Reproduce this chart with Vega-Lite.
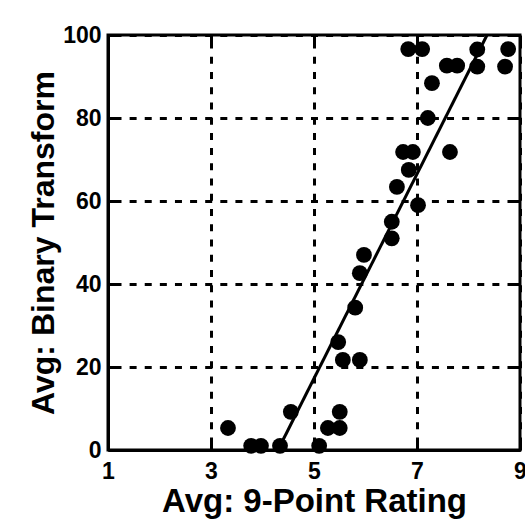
{
  "$schema": "https://vega.github.io/schema/vega-lite/v6.json",
  "width": 412,
  "height": 415,
  "autosize": {"type": "none"},
  "padding": {"left": 108, "top": 35, "right": 5, "bottom": 74},
  "background": "white",
  "config": {
    "view": {"stroke": "black", "strokeWidth": 3},
    "font": "Liberation Sans",
    "axis": {
      "domainColor": "black",
      "domainWidth": 3,
      "ticks": false,
      "labelFont": "Liberation Sans",
      "labelFontWeight": "bold",
      "labelFontSize": 23,
      "labelColor": "black",
      "titleFont": "Liberation Sans",
      "titleFontWeight": "bold",
      "titleColor": "black",
      "gridColor": "black",
      "gridWidth": 3,
      "gridOpacity": 1,
      "gridCap": "butt",
      "labelFlush": false,
      "labelOverlap": false
    }
  },
  "layer": [
    {
      "data": {
        "values": [
          {"x": 3.33, "y": 5.3},
          {"x": 3.78, "y": 1},
          {"x": 3.97, "y": 1},
          {"x": 4.34, "y": 1},
          {"x": 4.55, "y": 9.2},
          {"x": 5.1, "y": 1},
          {"x": 5.27, "y": 5.3},
          {"x": 5.5, "y": 5.3},
          {"x": 5.5, "y": 9.2},
          {"x": 5.56, "y": 21.7},
          {"x": 5.89, "y": 21.7},
          {"x": 5.47, "y": 26.0},
          {"x": 5.8, "y": 34.3},
          {"x": 5.89, "y": 42.6},
          {"x": 5.97, "y": 47.0},
          {"x": 6.51, "y": 51.0},
          {"x": 6.51, "y": 55.0},
          {"x": 7.02, "y": 59.0},
          {"x": 6.61, "y": 63.4},
          {"x": 6.84, "y": 67.5},
          {"x": 6.73, "y": 71.8},
          {"x": 6.92, "y": 71.8},
          {"x": 7.64, "y": 71.8},
          {"x": 7.21, "y": 80.0},
          {"x": 7.29, "y": 88.4},
          {"x": 7.58, "y": 92.6},
          {"x": 7.78, "y": 92.6},
          {"x": 8.17, "y": 92.4},
          {"x": 8.71, "y": 92.4},
          {"x": 6.83, "y": 96.6},
          {"x": 7.1, "y": 96.6},
          {"x": 8.17, "y": 96.5},
          {"x": 8.77, "y": 96.6}
        ]
      },
      "mark": {"type": "point", "shape": "circle", "filled": true, "size": 250, "color": "black", "opacity": 1},
      "encoding": {
        "x": {
          "field": "x", "type": "quantitative",
          "scale": {"domain": [1, 9], "nice": false, "zero": false},
          "axis": {
            "orient": "bottom", "values": [1, 3, 5, 7, 9], "grid": true,
            "gridDash": [13, 8.23, 7, 8.23, 7, 8.23, 7, 8.23, 7, 8.23, 7, 8.23, 7, 8.23, 7, 8.23, 7, 8.23, 7, 8.23, 7, 8.23, 7, 8.23, 7, 8.23, 7, 8.23, 7, 8.23, 7, 8.23, 7, 8.23, 7, 8.23, 7, 8.23, 7, 8.23, 7, 8.23, 7, 8.23, 7, 8.23, 7, 8.23, 7, 8.23, 7, 8.23, 40, 0],
            "labelPadding": 10,
            "title": "Avg: 9-Point Rating", "titleFontSize": 33, "titlePadding": 2
          }
        },
        "y": {
          "field": "y", "type": "quantitative",
          "scale": {"domain": [0, 100], "nice": false, "zero": false},
          "axis": {
            "orient": "left", "values": [0, 20, 40, 60, 80, 100], "grid": true,
            "gridDash": [13, 8.115, 7, 8.115, 7, 8.115, 7, 8.115, 7, 8.115, 7, 8.115, 7, 8.115, 7, 8.115, 7, 8.115, 7, 8.115, 7, 8.115, 7, 8.115, 7, 8.115, 7, 8.115, 7, 8.115, 7, 8.115, 7, 8.115, 7, 8.115, 7, 8.115, 7, 8.115, 7, 8.115, 7, 8.115, 7, 8.115, 7, 8.115, 7, 8.115, 7, 8.115, 40, 0],
            "labelPadding": 7,
            "title": "Avg: Binary Transform", "titleFontSize": 32, "titlePadding": 2
          }
        }
      }
    },
    {
      "data": {"values": [{"x": 4.3, "y": 0}, {"x": 8.36, "y": 100}]},
      "mark": {"type": "line", "color": "black", "strokeWidth": 3},
      "encoding": {
        "x": {"field": "x", "type": "quantitative", "scale": {"domain": [1, 9], "nice": false, "zero": false}},
        "y": {"field": "y", "type": "quantitative", "scale": {"domain": [0, 100], "nice": false, "zero": false}}
      }
    }
  ]
}
